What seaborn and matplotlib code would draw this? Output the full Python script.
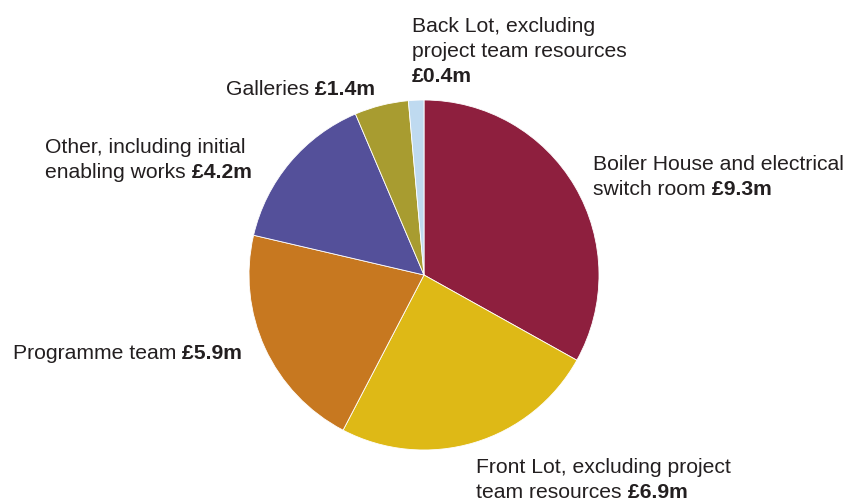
import matplotlib
matplotlib.use("Agg")
import matplotlib.pyplot as plt
import seaborn as sns

sns.set_theme(style="white")
plt.rcParams["font.family"] = ["Liberation Sans", "DejaVu Sans"]

# Spend by area (£m), drawn clockwise from 12 o'clock
categories = [
    "Boiler House and electrical switch room",
    "Front Lot, excluding project team resources",
    "Programme team",
    "Other, including initial enabling works",
    "Galleries",
    "Back Lot, excluding project team resources",
]
values = [9.3, 6.9, 5.9, 4.2, 1.4, 0.4]
value_labels = ["£9.3m", "£6.9m", "£5.9m", "£4.2m", "£1.4m", "£0.4m"]
colors = ["#8E1F3E", "#DEB916", "#C77820", "#54509A", "#A89C30", "#BFDAF0"]

W, H = 850, 501
fig = plt.figure(figsize=(W / 100, H / 100), dpi=100)
ax = fig.add_axes([0, 0, 1, 1])

ax.pie(values, colors=colors, startangle=90, counterclock=False,
       center=(424, H - 275), radius=175, frame=False,
       wedgeprops=dict(edgecolor="white", linewidth=0.6))

# one data unit per pixel
ax.set_xlim(0, W)
ax.set_ylim(0, H)
ax.set_aspect("equal")
ax.axis("off")

TXT = "#231F20"
FS = 15.2
STEP = 25


def label(x, baseline, lines, bold_text, bold_inline=True):
    """Write normal lines from pixel (x, baseline); bold value appended."""
    last = None
    for i, ln in enumerate(lines):
        last = ax.text(x, H - (baseline + i * STEP), ln, fontsize=FS,
                       color=TXT, ha="left", va="baseline")
    if bold_inline:
        ax.annotate(" " + bold_text, xy=(1, 0), xycoords=last,
                    ha="left", va="bottom", fontsize=FS, color=TXT,
                    fontweight="bold")
    else:
        ax.text(x, H - (baseline + len(lines) * STEP), bold_text, fontsize=FS,
                color=TXT, ha="left", va="baseline", fontweight="bold")


label(593, 170, ["Boiler House and electrical", "switch room"], value_labels[0])
label(476, 473, ["Front Lot, excluding project", "team resources"], value_labels[1])
label(13, 359, ["Programme team"], value_labels[2])
label(45, 153, ["Other, including initial", "enabling works"], value_labels[3])
label(226, 95, ["Galleries"], value_labels[4])
label(412, 32, ["Back Lot, excluding", "project team resources"], value_labels[5],
      bold_inline=False)

fig.savefig("out.png", dpi=100, facecolor="white")
